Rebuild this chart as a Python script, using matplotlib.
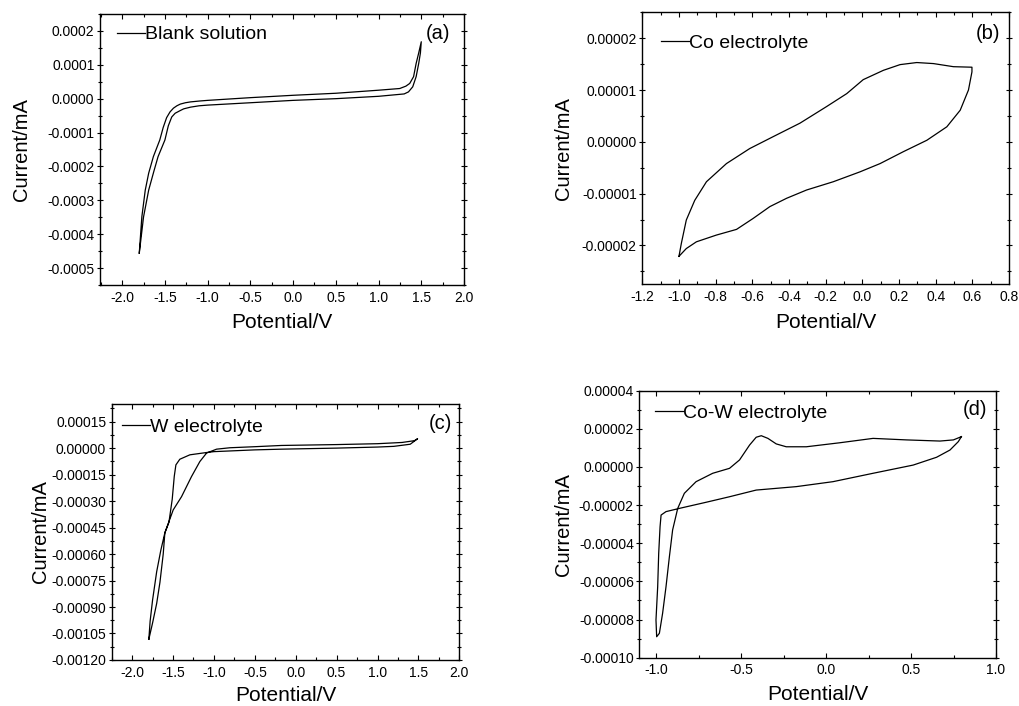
import matplotlib
matplotlib.use('Agg')
import matplotlib.pyplot as plt
from matplotlib.ticker import MultipleLocator, FormatStrFormatter
import numpy as np

plt.rcParams['font.family'] = ['Liberation Sans', 'DejaVu Sans']
plt.rcParams['axes.unicode_minus'] = False

# (a) blank solution, potential in V, current in units of 1e-5 mA
a_potential = [-1.80, -1.77, -1.73, -1.69, -1.635, -1.56, -1.52, -1.48, -1.44, -1.40,
               -1.36, -1.32, -1.26, -1.20, -1.09, -1.00, -0.50, 0.00, 0.50, 1.00, 1.248, 1.32,
               1.365, 1.41, 1.44, 1.47, 1.50,
               1.49, 1.47, 1.44, 1.40, 1.35, 1.30, 1.00, 0.50, 0.00, -0.50,
               -1.00, -1.10, -1.20, -1.28, -1.32, -1.38, -1.42, -1.46, -1.50, -1.58, -1.63,
               -1.69, -1.75, -1.80]
a_current = [-45.6, -34.9, -27.0, -22.0, -17.1, -12.2, -8.5, -5.6, -3.9, -2.8,
             -2.1, -1.6, -1.2, -0.95, -0.68, -0.5, 0.3, 1.0, 1.6, 2.5, 3.0, 3.7,
             4.5, 6.5, 10.4, 13.5, 16.8,
             13.5, 10.4, 6.5, 3.5, 2.0, 1.4, 0.7, 0.0, -0.5, -1.2,
             -1.9, -2.1, -2.5, -3.0, -3.5, -4.3, -5.4, -8.0, -12.2, -17.1, -21.5,
             -27.0, -34.9, -45.6]

# (b) Co electrolyte, current in units of 1e-5 mA
b_potential = [-1.000, -0.987, -0.960, -0.914, -0.850, -0.741, -0.614, -0.486, -0.340, -0.195,
               -0.085, 0.005, 0.115, 0.206, 0.297, 0.388, 0.497, 0.598,
               0.598, 0.579, 0.534, 0.461, 0.352, 0.224, 0.097, -0.013, -0.158, -0.304,
               -0.413, -0.504, -0.596, -0.686, -0.796, -0.905, -0.960, -1.000]
b_current = [-2.21, -1.96, -1.51, -1.13, -0.77, -0.42, -0.13, 0.10, 0.36, 0.68,
             0.93, 1.20, 1.38, 1.49, 1.53, 1.51, 1.45, 1.44,
             1.35, 1.00, 0.61, 0.29, 0.03, -0.19, -0.42, -0.58, -0.77, -0.93,
             -1.09, -1.25, -1.48, -1.69, -1.80, -1.93, -2.06, -2.21]

# (c) W electrolyte, current in units of 1e-4 mA
c_potential = [-1.796, -1.78, -1.75, -1.70, -1.65, -1.60, -1.498, -1.396, -1.274, -1.172,
               -1.09, -0.968, -0.805, -0.50, -0.175, 0.50, 1.00, 1.30, 1.45, 1.49,
               1.40, 1.20, 1.00, 0.50, -0.175, -0.50, -1.00, -1.09, -1.294, -1.417,
               -1.465, -1.485, -1.51, -1.55, -1.60, -1.62, -1.66, -1.70, -1.75, -1.796]
c_current = [-10.83, -9.8, -8.6, -7.0, -5.8, -4.8, -3.5, -2.75, -1.61, -0.76,
             -0.28, -0.06, 0.02, 0.08, 0.15, 0.20, 0.25, 0.32, 0.42, 0.53,
             0.22, 0.10, 0.06, 0.00, -0.06, -0.10, -0.20, -0.25, -0.38, -0.63,
             -0.95, -1.6, -2.9, -4.2, -4.8, -6.0, -7.6, -8.8, -9.9, -10.83]

# (d) Co-W electrolyte, current in units of 1e-5 mA
d_potential = [0.796, 0.778, 0.729, 0.650, 0.512, 0.276, 0.040, -0.176, -0.412, -0.569,
               -0.707, -0.864, -0.943, -0.972, -0.978, -0.986, -0.992, -1.002, -0.998,
               -0.982, -0.963, -0.943, -0.923, -0.904, -0.874, -0.835, -0.766, -0.668, -0.569,
               -0.510, -0.451, -0.412, -0.382, -0.343, -0.294, -0.235, -0.117, 0.080, 0.276,
               0.473, 0.670, 0.749, 0.796]
d_current = [1.59, 1.33, 0.89, 0.51, 0.10, -0.33, -0.77, -1.03, -1.21, -1.56,
             -1.85, -2.17, -2.34, -2.52, -3.13, -4.53, -6.28, -8.02, -8.90,
             -8.72, -7.67, -6.28, -4.70, -3.30, -2.17, -1.38, -0.77, -0.33, -0.07,
             0.37, 1.15, 1.56, 1.64, 1.50, 1.21, 1.06, 1.06, 1.27, 1.50,
             1.42, 1.36, 1.42, 1.59]

legend_labels = ['Blank solution', 'Co electrolyte', 'W electrolyte', 'Co-W electrolyte']
panel_letters = ['(a)', '(b)', '(c)', '(d)']

fig = plt.figure(figsize=(10.2, 7.06), dpi=100)

panels = [
    dict(rect=[0.098, 0.5963, 0.3569, 0.3839], x=a_potential, y=np.array(a_current) * 1e-5,
         xlim=(-2.26, 2.0), ylim=(-0.00055, 0.00025), xstep=0.5, ystep=0.0001, yfmt='%.4f',
         leg=(0.047, 0.924), let=(0.962, 0.929), ylab=-0.19, xlab=-0.105),
    dict(rect=[0.6297, 0.5973, 0.3595, 0.3853], x=b_potential, y=np.array(b_current) * 1e-5,
         xlim=(-1.2, 0.8), ylim=(-2.75e-5, 2.5e-5), xstep=0.2, ystep=1e-5, yfmt='%.5f',
         leg=(0.051, 0.888), let=(0.975, 0.923), ylab=-0.189, xlab=-0.107),
    dict(rect=[0.1095, 0.0652, 0.3408, 0.3626], x=c_potential, y=np.array(c_current) * 1e-4,
         xlim=(-2.25, 2.0), ylim=(-0.0012, 0.00025), xstep=0.5, ystep=0.00015, yfmt='%.5f',
         leg=(0.030, 0.911), let=(0.979, 0.925), ylab=-0.177, xlab=-0.103),
    dict(rect=[0.6268, 0.0684, 0.3497, 0.3782], x=d_potential, y=np.array(d_current) * 1e-5,
         xlim=(-1.1, 1.0), ylim=(-0.0001, 0.00004), xstep=0.5, ystep=2e-5, yfmt='%.5f',
         leg=(0.044, 0.915), let=(0.974, 0.928), ylab=-0.186, xlab=-0.103),
]

for p, label, letter in zip(panels, legend_labels, panel_letters):
    ax = fig.add_axes(p['rect'])
    ax.plot(p['x'], p['y'], color='black', lw=0.9, label=label)
    ax.set_xlim(*p['xlim'])
    ax.set_ylim(*p['ylim'])
    ax.xaxis.set_major_locator(MultipleLocator(p['xstep']))
    ax.xaxis.set_minor_locator(MultipleLocator(p['xstep'] / 2))
    ax.yaxis.set_major_locator(MultipleLocator(p['ystep']))
    ax.yaxis.set_minor_locator(MultipleLocator(p['ystep'] / 2))
    ax.xaxis.set_major_formatter(FormatStrFormatter('%.1f'))
    ax.yaxis.set_major_formatter(FormatStrFormatter(p['yfmt']))
    ax.tick_params(axis='x', which='both', direction='in', top=True, labelsize=10, pad=4)
    ax.tick_params(axis='x', which='major', length=3.5, width=0.8)
    ax.tick_params(axis='x', which='minor', length=2.5, width=0.8)
    ax.tick_params(axis='y', which='both', direction='inout', right=True, labelsize=10, pad=1.5)
    ax.tick_params(axis='y', which='major', length=5, width=0.8)
    ax.tick_params(axis='y', which='minor', length=3.5, width=0.8)
    for s in ax.spines.values():
        s.set_linewidth(1.0)

    ax.set_xlabel('Potential/V', fontsize=15)
    ax.set_ylabel('Current/mA', fontsize=14.5)
    ax.xaxis.set_label_coords(0.5, p['xlab'])
    ax.yaxis.set_label_coords(p['ylab'], 0.5)
    ax.xaxis.label.set_va('top')

    ax.legend(loc='center left', bbox_to_anchor=p['leg'], frameon=False, fontsize=14,
              handlelength=1.45, handletextpad=0.0, borderpad=0, borderaxespad=0)
    ax.text(p['let'][0], p['let'][1], letter, transform=ax.transAxes,
            ha='right', va='center', fontsize=14.5)

fig.savefig('out.png', dpi=100)
